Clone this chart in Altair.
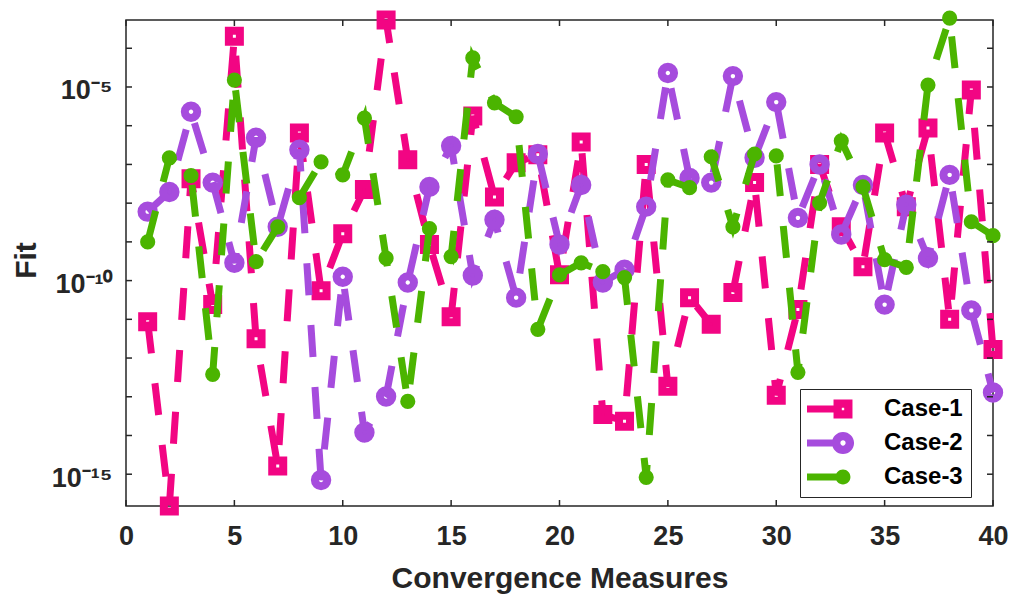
import altair as alt
import pandas as pd

# ---------------- data ----------------
measures = list(range(1, 41))

case1 = [8.71e-12, 1.51e-16, 4.27e-8, 2.40e-11, 2.04e-4, 3.16e-12, 1.62e-15, 6.46e-7,
         5.50e-11, 1.62e-9, 2.24e-8, 5.37e-4, 1.32e-7, 8.51e-10, 1.17e-11, 1.78e-6,
         1.45e-8, 1.10e-7, 1.78e-7, 1.41e-10, 3.80e-7, 3.47e-14, 2.34e-14, 1.00e-7,
         1.86e-13, 3.63e-11, 7.41e-12, 4.90e-11, 3.39e-8, 1.10e-13, 1.78e-11, 1.00e-7,
         2.45e-9, 2.29e-10, 6.46e-7, 8.13e-9, 8.71e-7, 1.00e-11, 8.32e-6, 1.66e-12]

case2 = [6.03e-9, 1.95e-8, 2.29e-6, 3.39e-8, 2.88e-10, 4.90e-7, 2.45e-9, 2.40e-7,
         7.08e-16, 1.26e-10, 1.20e-14, 1.02e-13, 8.91e-11, 2.63e-8, 3.02e-7, 1.35e-10,
         3.72e-9, 3.63e-11, 1.86e-7, 8.51e-10, 2.95e-8, 8.91e-11, 1.91e-10, 8.13e-9,
         2.29e-5, 4.47e-8, 3.39e-8, 1.91e-5, 1.48e-7, 4.07e-6, 4.17e-9, 1.00e-7,
         1.55e-9, 2.95e-8, 2.40e-11, 9.12e-9, 3.80e-10, 5.37e-8, 1.70e-11, 1.29e-13]

case3 = [1.00e-9, 1.48e-7, 5.13e-8, 3.80e-13, 1.51e-5, 3.09e-10, 2.45e-9, 1.38e-8,
         1.17e-7, 5.37e-8, 1.58e-6, 3.80e-10, 7.59e-14, 2.19e-9, 4.17e-10, 5.62e-5,
         3.89e-6, 1.70e-6, 5.50e-12, 1.41e-10, 2.88e-10, 1.70e-10, 1.20e-10, 8.32e-16,
         3.98e-8, 2.51e-8, 1.58e-7, 2.45e-9, 1.86e-7, 1.66e-7, 4.27e-13, 1.02e-8,
         4.07e-7, 2.63e-8, 3.47e-10, 2.19e-10, 1.12e-5, 6.03e-4, 3.31e-9, 1.45e-9]

series_names = ["Case-1", "Case-2", "Case-3"]
series_colors = ["#F20583", "#A64CDD", "#4BB400"]

x_tick_values = [0, 5, 10, 15, 20, 25, 30, 35, 40]
y_tick_values = [1e-15, 1e-14, 1e-13, 1e-12, 1e-11, 1e-10, 1e-9, 1e-8,
                 1e-7, 1e-6, 1e-5, 1e-4]
y_label_values = [1e-15, 1e-10, 1e-5]

# ---------------- layout / style ----------------
W, H = 867, 486
FONT = "Liberation Sans"
AX = "#262626"

rows = []
for name, vals in zip(series_names, [case1, case2, case3]):
    for m, v in zip(measures, vals):
        rows.append({"measure": m, "fit": v, "series": name})
df = pd.DataFrame(rows)

xscale = alt.Scale(domain=[0, 40], nice=False, zero=False)
yscale = alt.Scale(type="log", domain=[1.51e-16, 5.37e-4], nice=False)

label_expr = ("round(log(datum.value)/LN10) == -5 ? '10\u207b\u2075' : "
              "round(log(datum.value)/LN10) == -10 ? '10\u207b\u00b9\u2070' : "
              "'10\u207b\u00b9\u2075'")

x_axis = alt.Axis(values=x_tick_values, title="Convergence Measures", tickSize=0,
                  domain=False, grid=False, labelFont=FONT, labelFontSize=27,
                  labelFontWeight="bold", labelColor=AX, labelPadding=17,
                  labelFlush=False, format="d",
                  titleFont=FONT, titleFontSize=30, titleFontWeight="bold",
                  titleColor=AX, titleY=81, titleBaseline="alphabetic")
y_axis = alt.Axis(values=y_label_values, labelExpr=label_expr, title="Fit",
                  tickSize=0, domain=False, grid=False, labelFont=FONT,
                  labelFontSize=27, labelFontWeight="bold", labelColor=AX,
                  labelPadding=14, labelOffset=4,
                  titleFont=FONT, titleFontSize=30, titleFontWeight="bold",
                  titleColor=AX, titleX=-100, titleY=240,
                  titleBaseline="middle", titleAlign="center")


def xy():
    return dict(x=alt.X("measure:Q", scale=xscale, axis=x_axis),
                y=alt.Y("fit:Q", scale=yscale, axis=y_axis))


base = alt.Chart(df)
dash = [32, 30]
point_styles = {
    "Case-1": dict(shape="square", filled=False, strokeWidth=8, size=121),
    "Case-2": dict(shape="circle", filled=False, strokeWidth=8, size=154),
    "Case-3": dict(shape="circle", filled=True, strokeWidth=0, size=230),
}

layers = []
for name, color in zip(series_names, series_colors):
    sub = base.transform_filter(alt.datum.series == name)
    layers.append(sub.mark_line(color=color, strokeWidth=7, strokeDash=dash,
                                strokeCap="butt").encode(**xy()))
    layers.append(sub.mark_point(color=color, opacity=1,
                                 **point_styles[name]).encode(**xy()))

# inward ticks on all four sides
ytick_df = pd.DataFrame({"v": y_tick_values})
xtick_df = pd.DataFrame({"v": x_tick_values})
ty = alt.Y("v:Q", scale=yscale, axis=y_axis)
tx = alt.X("v:Q", scale=xscale, axis=x_axis)
tick_mark = dict(color=AX, strokeWidth=1.5)
layers.append(alt.Chart(ytick_df).mark_rule(**tick_mark).encode(
    y=ty, x=alt.value(0), x2=alt.value(6)))
layers.append(alt.Chart(ytick_df).mark_rule(**tick_mark).encode(
    y=ty, x=alt.value(W - 6), x2=alt.value(W)))
layers.append(alt.Chart(xtick_df).mark_rule(**tick_mark).encode(
    x=tx, y=alt.value(H - 6), y2=alt.value(H)))
layers.append(alt.Chart(xtick_df).mark_rule(**tick_mark).encode(
    x=tx, y=alt.value(0), y2=alt.value(6)))

# legend: line + marker symbols (custom paths, unit = 12 px)
legend_paths = [
    "M -3 -0.29 L -0.79 -0.29 L -0.79 0.29 L -3 0.29 Z "
    "M -0.79 -0.79 L 0.79 -0.79 L 0.79 0.79 L -0.79 0.79 Z "
    "M -0.1 -0.1 L -0.1 0.1 L 0.1 0.1 L 0.1 -0.1 Z",
    "M -3 -0.29 L -0.88 -0.29 L -0.88 0.29 L -3 0.29 Z "
    "M 0.92 0 A 0.92 0.92 0 1 1 -0.92 0 A 0.92 0.92 0 1 1 0.92 0 Z "
    "M 0.22 0 A 0.22 0.22 0 1 0 -0.22 0 A 0.22 0.22 0 1 0 0.22 0 Z",
    "M -3 -0.29 L -0.5 -0.29 L -0.5 0.29 L -3 0.29 Z "
    "M 0.62 0 A 0.62 0.62 0 1 1 -0.62 0 A 0.62 0.62 0 1 1 0.62 0 Z",
]

leg = alt.Legend(title=None, orient="none", legendX=674, legendY=369,
                 padding=8, rowPadding=10, strokeColor=AX, fillColor="white",
                 symbolSize=576, symbolOffset=23, symbolStrokeWidth=0,
                 labelOffset=29, labelFont=FONT, labelFontSize=24,
                 labelFontWeight="bold", labelColor="black", labelLimit=300)

legend_layer = base.transform_filter("false").mark_point(
    filled=True, opacity=1, size=576, strokeWidth=0).encode(
    x=alt.X("measure:Q", scale=xscale, axis=x_axis),
    y=alt.Y("fit:Q", scale=yscale, axis=y_axis),
    color=alt.Color("series:N", scale=alt.Scale(domain=series_names, range=series_colors), legend=leg),
    shape=alt.Shape("series:N", scale=alt.Scale(domain=series_names, range=legend_paths), legend=leg),
)
layers.append(legend_layer)

chart = alt.layer(*layers).properties(
    width=W, height=H,
    padding={"left": 126, "top": 20, "right": 21, "bottom": 90},
    autosize="none",
    background="white",
).configure_view(stroke=AX, strokeWidth=1.5)

chart.save("out.html", embed_options={"renderer": "svg", "actions": False})
